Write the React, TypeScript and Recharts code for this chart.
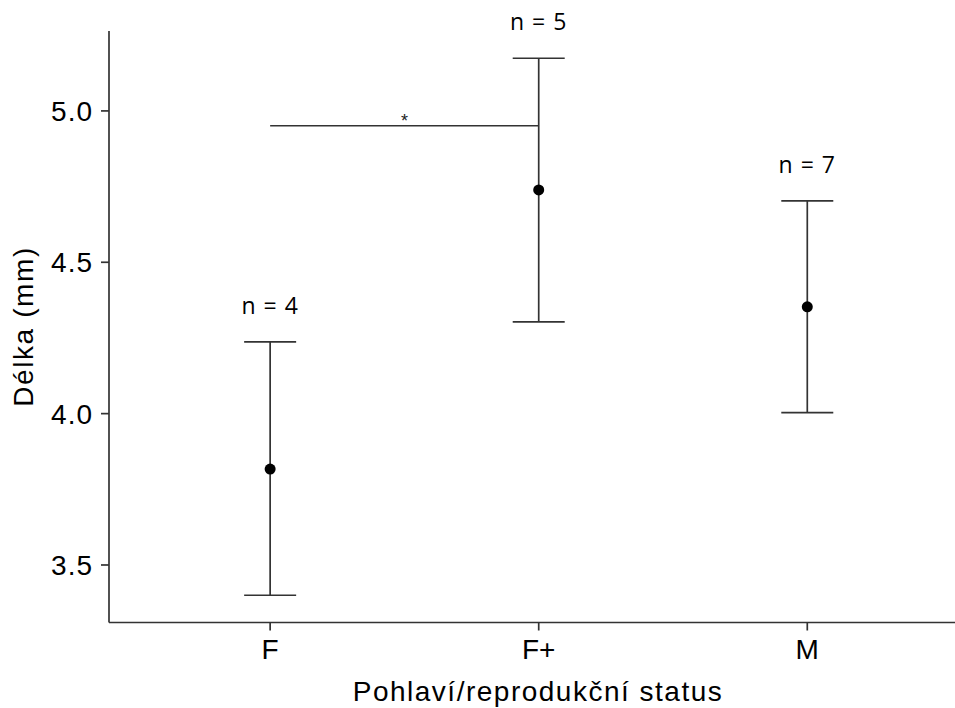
import {
  ScatterChart,
  Scatter,
  XAxis,
  YAxis,
  ErrorBar,
  ReferenceLine,
} from "recharts";

const groups = ["F", "F+", "M"];
const means = [3.817, 4.739, 4.353];
const upper = [4.237, 5.174, 4.703];
const lower = [3.4, 4.303, 4.003];
const counts = [4, 5, 7];

// F vs F+ significance bracket
const sigFrom = 1;
const sigTo = 2;
const sigY = 4.951;

const yTicks = [3.5, 4.0, 4.5, 5.0];

const rows = groups.map((g, i) => ({
  x: i + 1,
  y: means[i],
  group: g,
  err: [means[i] - lower[i], upper[i] - means[i]],
}));

const labelRows = groups.map((g, i) => ({
  x: i + 1,
  y: upper[i],
  n: counts[i],
}));

const ink = "#333333";
const axisFont = "'Liberation Sans', Arial, sans-serif";

function Dot(props: any) {
  const { cx, cy } = props;
  return <circle cx={cx} cy={cy} r={5.5} fill="#000" />;
}

function NLabel(props: any) {
  const { cx, cy, payload } = props;
  return (
    <text
      x={cx}
      y={cy - 28}
      textAnchor="middle"
      fontFamily="'Open Sans', 'Noto Sans', sans-serif"
      fontSize={23}
      letterSpacing={1}
      fill="#000"
    >
      n = {payload.n}
    </text>
  );
}

function YTitle() {
  return (
    <text
      x={33}
      y={326.5}
      transform="rotate(-90, 33, 326.5)"
      textAnchor="middle"
      fontFamily={axisFont}
      fontSize={28}
      letterSpacing={1.6}
      fill="#000"
    >
      Délka (mm)
    </text>
  );
}

export default function App() {
  return (
    <div style={{ position: "absolute", left: 0, top: 0, background: "#fff" }}>
      <ScatterChart
        width={955}
        height={708}
        margin={{ top: 31, right: 0, bottom: 7.5, left: 0 }}
      >
        <XAxis
          type="number"
          dataKey="x"
          domain={[0.4, 3.55]}
          ticks={[1, 2, 3]}
          tickFormatter={(v: number) => groups[v - 1]}
          height={78}
          tickSize={8}
          tickMargin={9}
          axisLine={{ stroke: ink, strokeWidth: 1.7 }}
          tickLine={{ stroke: ink, strokeWidth: 1.7 }}
          tick={{ fill: "#000", fontSize: 28, fontFamily: axisFont }}
          label={{
            value: "Pohlaví/reprodukční status",
            position: "insideBottom",
            offset: 0,
            dx: 6,
            fill: "#000",
            fontSize: 28,
            fontFamily: axisFont,
            letterSpacing: 1.5,
          }}
        />
        <YAxis
          type="number"
          dataKey="y"
          domain={[3.31, 5.264]}
          ticks={yTicks}
          tickFormatter={(v: number) => v.toFixed(1)}
          width={109}
          tickSize={8}
          tickMargin={8}
          axisLine={{ stroke: ink, strokeWidth: 1.7 }}
          tickLine={{ stroke: ink, strokeWidth: 1.7 }}
          tick={{ fill: "#000", fontSize: 28, fontFamily: axisFont, letterSpacing: 1 }}
          label={{ content: () => <YTitle /> }}
        />
        <ReferenceLine
          segment={[
            { x: sigFrom, y: sigY },
            { x: sigTo, y: sigY },
          ]}
          stroke={ink}
          strokeWidth={1.7}
          label={{
            value: "*",
            position: "top",
            offset: -1.5,
            fill: "#222",
            fontSize: 18,
            fontFamily: axisFont,
          }}
        />
        <Scatter data={rows} shape={<Dot />} isAnimationActive={false}>
          <ErrorBar
            dataKey="err"
            direction="y"
            width={26}
            stroke={ink}
            strokeWidth={1.7}
            isAnimationActive={false}
          />
        </Scatter>
        <Scatter data={labelRows} shape={<NLabel />} isAnimationActive={false} />
      </ScatterChart>
    </div>
  );
}
